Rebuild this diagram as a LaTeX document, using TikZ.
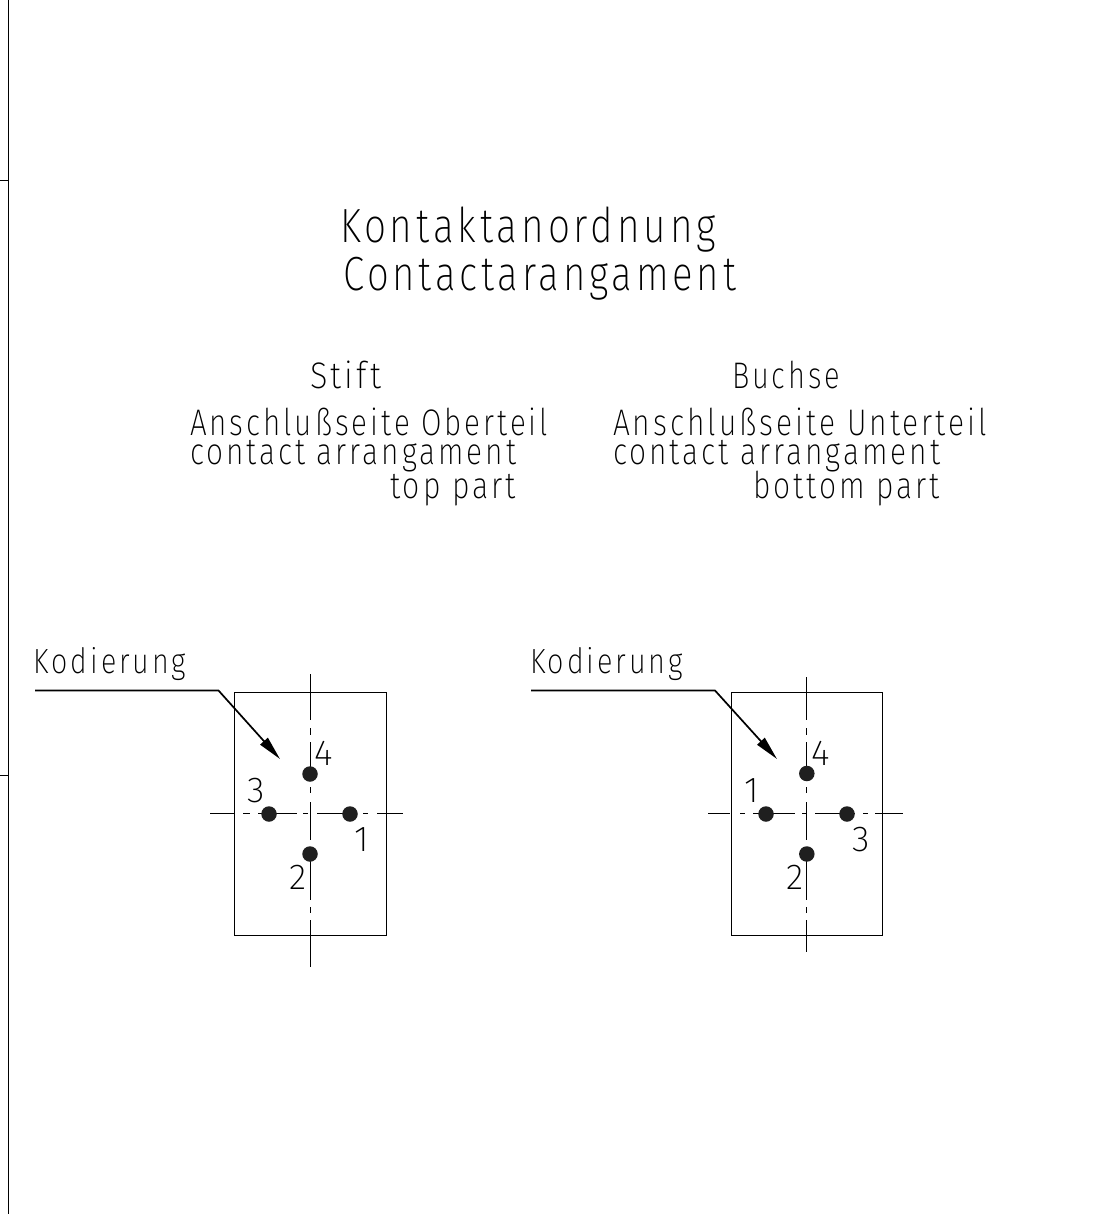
\documentclass[tikz,border=0pt]{standalone}
\usepackage{fontspec}
\usepackage{graphicx}
\usetikzlibrary{arrows.meta}
\newfontfamily\cadfont[LetterSpace=10]{Fira Sans ExtraLight}
\newcommand{\fitw}[3]{\resizebox{#1pt}{\height}{\fontsize{#2}{#2}\selectfont\cadfont #3}}
\tikzset{
  txt/.style={anchor=base west,inner sep=0pt,outer sep=0pt},
  thinl/.style={line width=1pt,black},
  thickl/.style={line width=1.7pt,black},
  pin/.style={circle,fill=black!88,draw=none,minimum size=15.5pt,inner sep=0pt},
  digit/.style={anchor=base,inner sep=0pt,font=\fontsize{36}{36}\selectfont\cadfont}
}
\begin{document}
\begin{tikzpicture}[x=1pt,y=-1pt]
\useasboundingbox (0,0) rectangle (1112,1214);
% sheet border
\draw[line width=1.8pt] (8.5,0) -- (8.5,1214);
\draw[thinl] (0,180.5) -- (8.5,180.5);
\draw[thinl] (0,775) -- (8.5,775);
% headings
\node[txt] (t1) at (340,243) {\fitw{376}{48}{Kontaktanordnung}};
\node[txt] (t2) at (343,291) {\fitw{393}{48}{Contactarangament}};
\node[txt] (s1) at (310,388) {\fitw{71}{37}{Stift}};
\node[txt] (s2) at (732,388) {\fitw{108}{37}{Buchse}};
\node[txt] (a1) at (190,435) {\fitw{358}{37}{Anschlußseite Oberteil}};
\node[txt] (a2) at (190,464) {\fitw{326}{37}{contact arrangament}};
\node[txt] (a3) at (390,498) {\fitw{126}{37}{top part}};
\node[txt] (b1) at (613,435) {\fitw{374}{37}{Anschlußseite Unterteil}};
\node[txt] (b2) at (613,464) {\fitw{327}{37}{contact arrangament}};
\node[txt] (b3) at (753,498) {\fitw{187}{37}{bottom part}};
\node[txt] (k1) at (34,673) {\fitw{152}{35}{Kodierung}};
\node[txt] (k2) at (530,673) {\fitw{153}{35}{Kodierung}};
% left view
\draw[thinl] (234.3,692.8) rectangle (386,935);
\draw[thinl] (310,674) -- (310,720) (310,728) -- (310,735) (310,742) -- (310,767) (310,787) -- (310,793)
  (310,802) -- (310,840) (310,860) -- (310,900) (310,907) -- (310,913) (310,920) -- (310,967);
\draw[thinl] (210,813.8) -- (235,813.8) (243,813.8) -- (250,813.8) (258,813.8) -- (297,813.8)
  (303,813.8) -- (308,813.8) (317,813.8) -- (355,813.8) (363,813.8) -- (368,813.8) (377,813.8) -- (403,813.8);
\node[pin] (p14) at (310,774) {};
\node[pin] (p13) at (269,814) {};
\node[pin] (p11) at (350,814) {};
\node[pin] (p12) at (310,854) {};
\coordinate (l1a) at (35,690.5);
\coordinate (l1b) at (218.5,690.5);
\coordinate (l1c) at (280,759);
\draw[thickl,-{Triangle[length=24pt,width=10pt]}] (l1a) -- (l1b) -- (l1c);
\node[digit] at (324,765) {4};
\node[digit] at (256,802) {3};
\node[digit] at (362,851) {1};
\node[digit] at (298,889) {2};
% right view
\draw[thinl] (731,692.8) rectangle (882.5,935);
\draw[thinl] (806.8,677) -- (806.8,720) (806.8,728) -- (806.8,735) (806.8,742) -- (806.8,767) (806.8,787) -- (806.8,793)
  (806.8,802) -- (806.8,840) (806.8,860) -- (806.8,900) (806.8,907) -- (806.8,913) (806.8,920) -- (806.8,952);
\draw[thinl] (708,813.8) -- (730,813.8) (740,813.8) -- (745,813.8) (753,813.8) -- (795,813.8)
  (802,813.8) -- (807,813.8) (815,813.8) -- (855,813.8) (863,813.8) -- (868,813.8) (875,813.8) -- (902.7,813.8);
\node[pin] (p24) at (806.8,773.5) {};
\node[pin] (p21) at (766,814) {};
\node[pin] (p23) at (847,814) {};
\node[pin] (p22) at (806.8,854) {};
\coordinate (l2a) at (531,690.5);
\coordinate (l2b) at (715,690.5);
\coordinate (l2c) at (777,759);
\draw[thickl,-{Triangle[length=24pt,width=10pt]}] (l2a) -- (l2b) -- (l2c);
\node[digit] at (821,765) {4};
\node[digit] at (752,802) {1};
\node[digit] at (861,851) {3};
\node[digit] at (795,889) {2};
\end{tikzpicture}
\end{document}
